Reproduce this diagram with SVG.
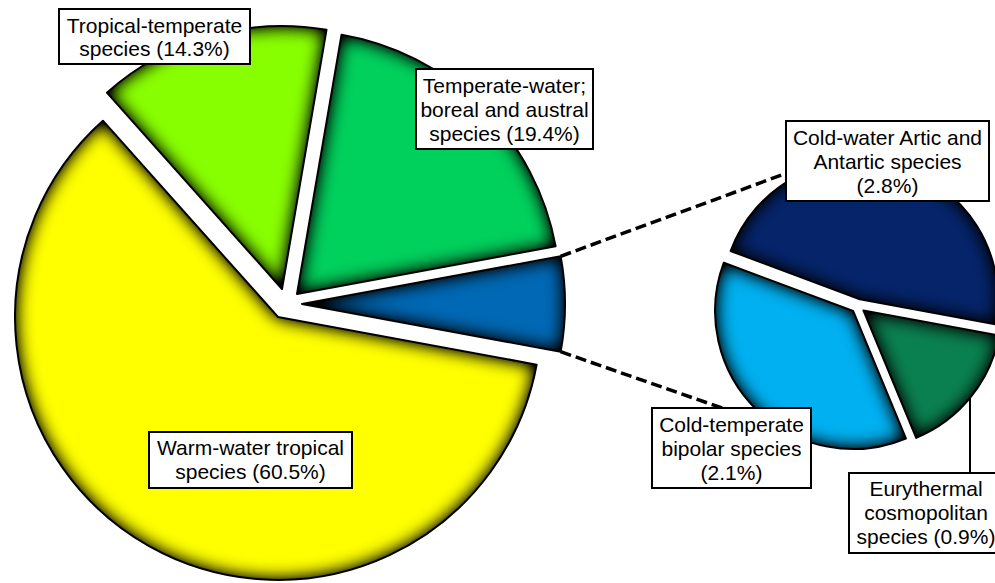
<svg xmlns="http://www.w3.org/2000/svg" width="995" height="583" viewBox="0 0 995 583">
  <defs>
    <filter id="inner" filterUnits="userSpaceOnUse" x="-60" y="-60" width="1120" height="710" color-interpolation-filters="sRGB">
      <feComponentTransfer in="SourceAlpha" result="inv">
        <feFuncA type="table" tableValues="1 0"/>
      </feComponentTransfer>
      <feGaussianBlur in="inv" stdDeviation="9" result="blur"/>
      <feComposite in="blur" in2="SourceAlpha" operator="in" result="edge"/>
      <feColorMatrix in="edge" type="matrix" values="0 0 0 0 0  0 0 0 0 0  0 0 0 0 0  0 0 0 1.4 0" result="dark"/>
      <feMerge>
        <feMergeNode in="SourceGraphic"/>
        <feMergeNode in="dark"/>
      </feMerge>
    </filter>
  </defs>
  <style>
    .fill { filter: url(#inner); stroke: none; }
    .edge { fill: none; stroke: #000; stroke-width: 2; stroke-linejoin: round; }
    .box { fill: #fff; stroke: #000; stroke-width: 2; }
    .lbl { font-family: "Liberation Sans", Arial, sans-serif; font-size: 21px; fill: #000; text-anchor: middle; }
    .dash { fill: none; stroke: #000; stroke-width: 3.5; stroke-dasharray: 11 5; }
    .lead { fill: none; stroke: #000; stroke-width: 2; }
  </style>
  <rect x="0" y="0" width="995" height="583" fill="#fff"/>

  <g id="connectors">
    <line class="dash" x1="560.6" y1="256.3" x2="786" y2="173.4"/>
    <line class="dash" x1="560.6" y1="351.7" x2="722" y2="408"/>
    <line class="lead" x1="970" y1="398" x2="970" y2="473"/>
  </g>

  <g id="warm-water-tropical">
    <path class="fill" fill="#ffff00" d="M278,317 L536.65,364.66 A263,263 0 1,1 102.9,120.7 Z"/>
    <path class="edge" d="M278,317 L536.65,364.66 A263,263 0 1,1 102.9,120.7 Z"/>
    <rect class="box" x="149" y="432" width="203" height="56"/>
    <text class="lbl" x="250.5" y="455">Warm-water tropical</text>
    <text class="lbl" x="250.5" y="479">species (60.5%)</text>
  </g>

  <g id="tropical-temperate">
    <path class="fill" fill="#88ff00" d="M282,289 L106.9,92.7 A263,263 0 0,1 326.5,29.8 Z"/>
    <path class="edge" d="M282,289 L106.9,92.7 A263,263 0 0,1 326.5,29.8 Z"/>
    <rect class="box" x="59" y="9" width="191" height="55"/>
    <text class="lbl" x="154.5" y="33">Tropical-temperate</text>
    <text class="lbl" x="154.5" y="56">species (14.3%)</text>
  </g>

  <g id="temperate-water">
    <path class="fill" fill="#00d05c" d="M297,294 L341.5,34.8 A263,263 0 0,1 555.6,246.3 Z"/>
    <path class="edge" d="M297,294 L341.5,34.8 A263,263 0 0,1 555.6,246.3 Z"/>
    <rect class="box" x="416" y="69" width="177" height="80"/>
    <text class="lbl" x="504.5" y="93">Temperate-water;</text>
    <text class="lbl" x="504.5" y="117">boreal and austral</text>
    <text class="lbl" x="504.5" y="141">species (19.4%)</text>
  </g>

  <g id="other-cold">
    <path class="fill" fill="#0068b4" d="M302,304 L560.65,256.3 A263,263 0 0,1 560.65,351.7 Z"/>
    <path class="edge" d="M302,304 L560.65,256.3 A263,263 0 0,1 560.65,351.7 Z"/>
  </g>

  <g id="cold-water-artic-antartic">
    <path class="fill" fill="#05246a" d="M859.9,299.3 L730.6,251 A138,138 0 0,1 995.6,324.4 Z"/>
    <path class="edge" d="M859.9,299.3 L730.6,251 A138,138 0 0,1 995.6,324.4 Z"/>
    <rect class="box" x="786" y="121" width="203" height="80"/>
    <text class="lbl" x="887.5" y="145">Cold-water Artic and</text>
    <text class="lbl" x="887.5" y="169">Antartic species</text>
    <text class="lbl" x="887.5" y="193">(2.8%)</text>
  </g>

  <g id="cold-temperate-bipolar">
    <path class="fill" fill="#00b0f0" d="M853.1,311 L905.9,438.5 A138,138 0 0,1 723.8,262.7 Z"/>
    <path class="edge" d="M853.1,311 L905.9,438.5 A138,138 0 0,1 723.8,262.7 Z"/>
    <rect class="box" x="652" y="408" width="159" height="80"/>
    <text class="lbl" x="731.5" y="432">Cold-temperate</text>
    <text class="lbl" x="731.5" y="456">bipolar species</text>
    <text class="lbl" x="731.5" y="480">(2.1%)</text>
  </g>

  <g id="eurythermal-cosmopolitan">
    <path class="fill" fill="#0a8050" d="M863.4,310.4 L999.1,335.5 A138,138 0 0,1 916.2,437.9 Z"/>
    <path class="edge" d="M863.4,310.4 L999.1,335.5 A138,138 0 0,1 916.2,437.9 Z"/>
    <rect class="box" x="849" y="473" width="155" height="80"/>
    <text class="lbl" x="926" y="496">Eurythermal</text>
    <text class="lbl" x="926" y="520">cosmopolitan</text>
    <text class="lbl" x="926" y="544">species (0.9%)</text>
  </g>
</svg>
